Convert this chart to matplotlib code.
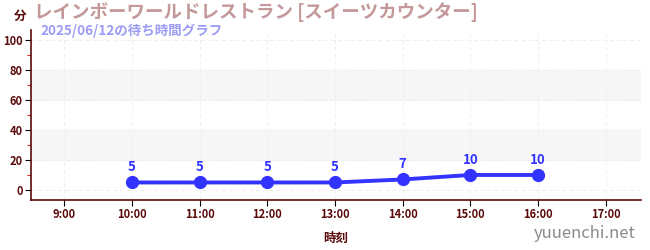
import matplotlib.pyplot as plt
from matplotlib.ticker import MultipleLocator

plt.rcParams['font.family'] = ['Noto Sans CJK JP', 'DejaVu Sans']

# data
hours = [10, 11, 12, 13, 14, 15, 16]
waits = [5, 5, 5, 5, 7, 10, 10]
tick_hours = [9, 10, 11, 12, 13, 14, 15, 16, 17]
tick_labels = ['%d:00' % h for h in tick_hours]
y_ticks = [0, 20, 40, 60, 80, 100]

title = 'レインボーワールドレストラン [スイーツカウンター]'
subtitle = '2025/06/12の待ち時間グラフ'

DARK = '#5a0a0a'
LINE = '#3333ff'

fig = plt.figure(figsize=(6.5, 2.5), dpi=100)
ax = fig.add_axes([31/650, 50/250, 610/650, 170/250])

ax.set_xlim(8.51, 17.52)
ax.set_ylim(-6.7, 106.7)

# alternating bands
for lo in (20, 60):
    ax.axhspan(lo, lo + 20, color='#f6f6f6', zorder=0)

ax.set_xticks(tick_hours)
ax.set_xticklabels(tick_labels, fontsize=8, fontweight='bold', color=DARK)
ax.set_yticks(y_ticks)
ax.set_yticklabels([str(v) for v in y_ticks], fontsize=8, fontweight='bold', color=DARK)
ax.yaxis.set_minor_locator(MultipleLocator(10))
ax.tick_params(axis='both', which='major', length=4, color='black', width=0.8, pad=2)
ax.tick_params(axis='y', which='minor', length=3, color='#dd2222', width=0.8)
ax.grid(True, which='major', color='#eeeeee', linestyle=(0, (4, 3)), linewidth=0.7)
ax.set_axisbelow(True)

for s in ('top', 'right'):
    ax.spines[s].set_visible(False)
for s in ('left', 'bottom'):
    ax.spines[s].set_color(DARK)
    ax.spines[s].set_linewidth(1.2)

ax.plot(hours, waits, color=LINE, linewidth=2.8, marker='o', markersize=8.5, zorder=3)
for h, w in zip(hours, waits):
    ax.annotate(str(w), (h, w), xytext=(0, 6), textcoords='offset points',
                ha='center', va='bottom', fontsize=9.5, fontweight='bold', color=LINE)

ax.set_xlabel('時刻', fontsize=9, fontweight='bold', color=DARK, labelpad=8)

fig.text(20/650, 1 - 16/250, '分', fontsize=9, fontweight='bold', color=DARK,
         ha='center', va='center')
fig.text(34/650, 1 - 12/250, title, fontsize=13.3, fontweight='bold', color='#c49898',
         ha='left', va='center')
fig.text(40/650, 1 - 31/250, subtitle, fontsize=9.7, fontweight='bold', color='#9c9cf5',
         ha='left', va='center')
fig.text(636/650, 1 - 233/250, 'yuuenchi.net', fontsize=12, color='#8a8a8a',
         ha='right', va='center')

fig.savefig('out.png', dpi=100)
